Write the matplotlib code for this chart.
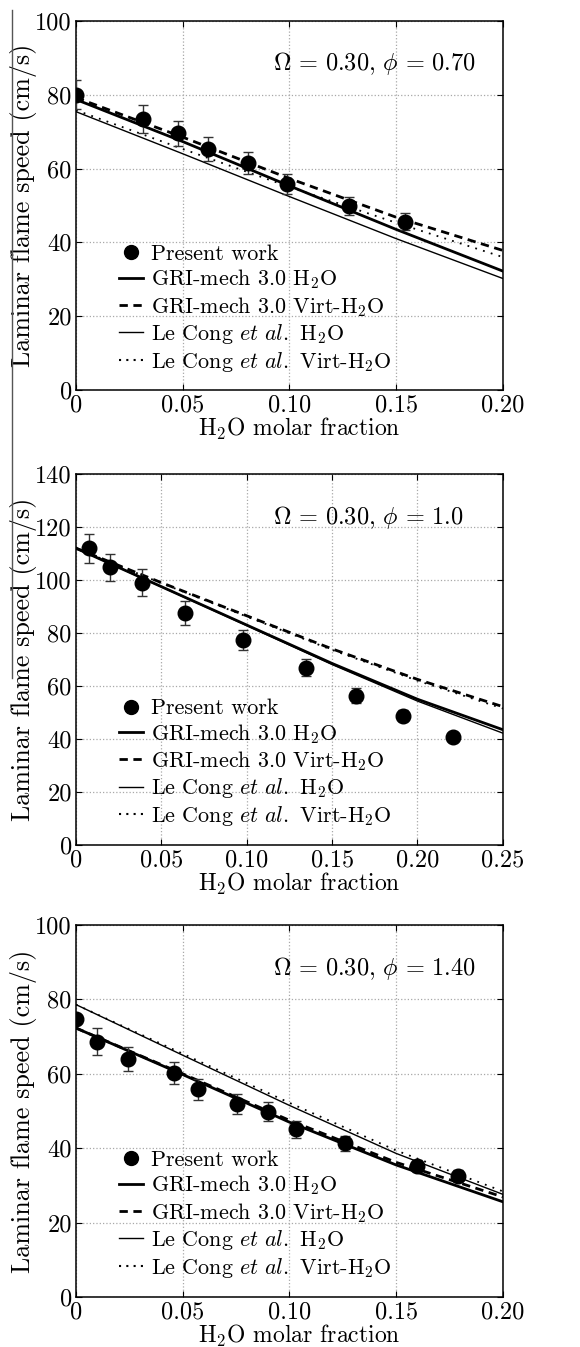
import matplotlib
matplotlib.use('Agg')
import matplotlib.pyplot as plt
from matplotlib.lines import Line2D
from matplotlib.ticker import FixedLocator, FixedFormatter

plt.rcParams['font.family'] = 'serif'
plt.rcParams['font.serif'] = ['cmr10', 'DejaVu Serif']
plt.rcParams['mathtext.fontset'] = 'cm'
plt.rcParams['axes.formatter.use_mathtext'] = True

# ---------------- data ----------------
# Panel 1: Omega = 0.30, phi = 0.70
p1_exp_x = [0.0, 0.0316, 0.0477, 0.062, 0.0808, 0.099, 0.128, 0.154]
p1_exp_y = [80.0, 73.4, 69.5, 65.3, 61.4, 55.7, 49.9, 45.6]
p1_exp_err = [4.0, 3.7, 3.4, 3.2, 3.0, 2.7, 2.5, 2.3]
p1_model_x = [0.0, 0.05, 0.10, 0.15, 0.20]
p1_gri_h2o = [78.7, 67.3, 55.3, 43.5, 32.2]
p1_gri_virt = [79.2, 68.5, 57.3, 46.8, 37.8]
p1_lc_h2o = [75.4, 64.0, 52.4, 41.0, 30.2]
p1_lc_virt = [75.8, 65.3, 55.0, 45.3, 36.0]

# Panel 2: Omega = 0.30, phi = 1.0
p2_exp_x = [0.0078, 0.0199, 0.0385, 0.064, 0.098, 0.1346, 0.164, 0.1918, 0.2207]
p2_exp_y = [112.0, 104.8, 99.0, 87.7, 77.4, 66.9, 56.4, 48.8, 40.6]
p2_exp_err = [5.4, 5.0, 5.0, 4.5, 3.8, 3.3, 2.8, 2.0, 1.0]
p2_model_x = [0.0, 0.05, 0.10, 0.15, 0.20, 0.25]
p2_gri_h2o = [112.0, 97.5, 83.0, 68.5, 55.0, 43.5]
p2_gri_virt = [112.0, 99.0, 86.5, 74.0, 62.5, 52.2]
p2_lc_h2o = [112.0, 97.4, 82.8, 68.1, 54.3, 42.2]
p2_lc_virt = [112.0, 98.8, 86.2, 73.6, 62.0, 51.5]

# Panel 3: Omega = 0.30, phi = 1.40
p3_exp_x = [0.0, 0.010, 0.0245, 0.046, 0.0573, 0.0755, 0.0898, 0.103, 0.126, 0.160, 0.179]
p3_exp_y = [74.6, 68.6, 64.0, 60.3, 55.8, 51.8, 49.8, 45.1, 41.3, 35.3, 32.6]
p3_exp_err = [1.0, 3.6, 3.3, 3.0, 2.8, 2.7, 2.5, 2.3, 2.0, 1.5, 1.5]
p3_model_x = [0.0, 0.05, 0.10, 0.15, 0.20]
p3_gri_h2o = [72.3, 59.8, 47.0, 35.5, 25.6]
p3_gri_virt = [72.3, 60.0, 47.5, 36.2, 26.9]
p3_lc_h2o = [78.6, 65.0, 51.5, 38.6, 27.6]
p3_lc_virt = [78.6, 65.4, 52.2, 39.4, 28.4]

annotations = [r'$\Omega\,=\,0.30,\,\phi\,=\,0.70$',
               r'$\Omega\,=\,0.30,\,\phi\,=\,1.0$',
               r'$\Omega\,=\,0.30,\,\phi\,=\,1.40$']
labels = ['Present work', r'GRI-mech 3.0 H$_2$O', r'GRI-mech 3.0 Virt-H$_2$O',
          r'Le Cong $\mathit{et\ al.}$ H$_2$O', r'Le Cong $\mathit{et\ al.}$ Virt-H$_2$O']

p1_xticks = [0.0, 0.05, 0.10, 0.15, 0.20]
p1_xticklabels = ['0', '0.05', '0.10', '0.15', '0.20']
p2_xticks = [0.0, 0.05, 0.10, 0.15, 0.20, 0.25]
p2_xticklabels = ['0', '0.05', '0.10', '0.15', '0.20', '0.25']
p1_yticks = [0, 20, 40, 60, 80, 100]
p2_yticks = [0, 20, 40, 60, 80, 100, 120, 140]

panels = [
    dict(ex=p1_exp_x, ey=p1_exp_y, ee=p1_exp_err, mx=p1_model_x,
         gh=p1_gri_h2o, gv=p1_gri_virt, lh=p1_lc_h2o, lv=p1_lc_virt,
         xt=p1_xticks, xtl=p1_xticklabels, yt=p1_yticks, xlim=(0, 0.20), ylim=(0, 100),
         ann=annotations[0], pos=[0.131, 0.7105, 0.736, 0.274]),
    dict(ex=p2_exp_x, ey=p2_exp_y, ee=p2_exp_err, mx=p2_model_x,
         gh=p2_gri_h2o, gv=p2_gri_virt, lh=p2_lc_h2o, lv=p2_lc_virt,
         xt=p2_xticks, xtl=p2_xticklabels, yt=p2_yticks, xlim=(0, 0.25), ylim=(0, 140),
         ann=annotations[1], pos=[0.131, 0.3727, 0.736, 0.2754]),
    dict(ex=p3_exp_x, ey=p3_exp_y, ee=p3_exp_err, mx=p3_model_x,
         gh=p3_gri_h2o, gv=p3_gri_virt, lh=p3_lc_h2o, lv=p3_lc_virt,
         xt=p1_xticks, xtl=p1_xticklabels, yt=p1_yticks, xlim=(0, 0.20), ylim=(0, 100),
         ann=annotations[2], pos=[0.131, 0.0371, 0.736, 0.2762]),
]

fig = plt.figure(figsize=(5.8, 13.47), dpi=100)

FS = 17.5
for p in panels:
    ax = fig.add_axes(p['pos'])
    ax.errorbar(p['ex'], p['ey'], yerr=p['ee'], fmt='o', color='black',
                markersize=10.5, ecolor='#333333', elinewidth=1.0, capsize=3.5,
                capthick=1.0, zorder=5)
    ax.plot(p['mx'], p['gh'], color='black', lw=2.0, ls='-', zorder=3)
    ax.plot(p['mx'], p['gv'], color='black', lw=2.0, ls=(0, (3, 2)), zorder=3)
    ax.plot(p['mx'], p['lh'], color='black', lw=1.0, ls='-', zorder=3)
    ax.plot(p['mx'], p['lv'], color='black', lw=1.3, ls=(0, (1, 3.5)), zorder=3)

    ax.set_xlim(*p['xlim'])
    ax.set_ylim(*p['ylim'])
    ax.xaxis.set_major_locator(FixedLocator(p['xt']))
    ax.xaxis.set_major_formatter(FixedFormatter(p['xtl']))
    ax.yaxis.set_major_locator(FixedLocator(p['yt']))
    ax.set_yticklabels([str(v) for v in p['yt']])
    ax.grid(True, color='#a8a8a8', ls=':', lw=0.9)
    ax.tick_params(direction='in', length=4, top=True, right=True,
                   labelsize=FS, pad=3, width=0.8)
    for s in ax.spines.values():
        s.set_linewidth(1.1)
    ax.set_xlabel(r'H$_2$O molar fraction', fontsize=17, labelpad=0)
    ax.xaxis.label.set_x(0.522)
    ax.set_ylabel('Laminar flame speed (cm/s)', fontsize=18.8, labelpad=-1.0)
    ax.text(0.461, 0.884, p['ann'], transform=ax.transAxes, fontsize=17.5,
            ha='left', va='center')

    handles = [
        Line2D([], [], color='black', marker='o', ls='none', markersize=10),
        Line2D([], [], color='black', lw=2.0, ls='-'),
        Line2D([], [], color='black', lw=2.0, ls=(0, (3, 2))),
        Line2D([], [], color='black', lw=1.0, ls='-'),
        Line2D([], [], color='black', lw=1.5, ls=(0, (1, 2.5))),
    ]
    ax.legend(handles, labels, loc='upper left', bbox_to_anchor=(0.1, 0.394),
              frameon=False, fontsize=15.9, handlelength=1.1,
              handletextpad=0.35, labelspacing=0.16, borderpad=0.0,
              borderaxespad=0.0)

fig.add_artist(Line2D([12 / 580, 12 / 580], [1 - 10 / 1347, 1 - 678 / 1347],
                      transform=fig.transFigure, color='#555555', lw=1.0))

fig.savefig('out.png', dpi=100)
